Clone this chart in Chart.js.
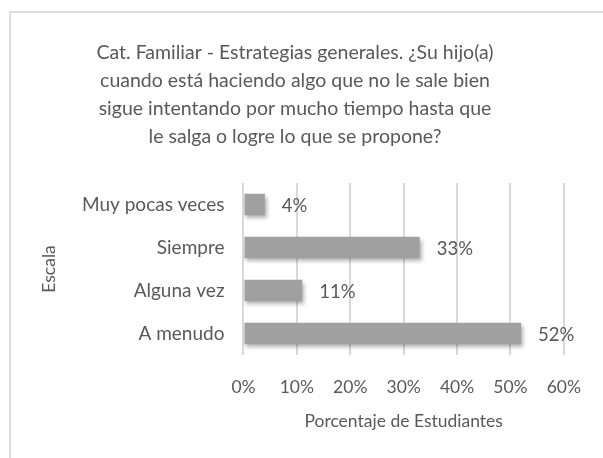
<!DOCTYPE html>
<html lang="es">
<head>
  <meta charset="UTF-8">
  <title>Estrategias generales</title>
  <script src="https://cdn.jsdelivr.net/npm/chart.js"></script>
  <style>
    body { margin: 0; background: #fff; }
    #wrap { position: relative; width: 603px; height: 458px; overflow: hidden; }
    #frame { position: absolute; left: 9px; top: 11px; width: 700px; height: 600px; border: 2px solid #dedede; }
    canvas { position: absolute; left: 0; top: 0; }
  </style>
</head>
<body>
<div id="wrap">
  <div id="frame"></div>
  <canvas id="chart" width="603" height="458"></canvas>
</div>

<script>
  const categories = ['Muy pocas veces', 'Siempre', 'Alguna vez', 'A menudo'];
  const percentages = [4, 33, 11, 52];
  const xTicks = [0, 10, 20, 30, 40, 50, 60];

  const textColor = '#595959';
  const fontFamily = 'Lato, "Open Sans", sans-serif';

  // value labels to the right of each bar
  const barLabels = {
    id: 'barLabels',
    afterDatasetsDraw(chart) {
      const ctx = chart.ctx;
      const meta = chart.getDatasetMeta(0);
      ctx.save();
      ctx.font = '18.5px ' + fontFamily;
      ctx.fillStyle = textColor;
      ctx.textAlign = 'left';
      ctx.textBaseline = 'middle';
      meta.data.forEach((bar, i) => {
        ctx.fillText(percentages[i] + '%', bar.x + 17, bar.y + 2);
      });
      ctx.restore();
    }
  };

  // soft drop shadow under the bars
  const barShadow = {
    id: 'barShadow',
    beforeDatasetsDraw(chart) {
      const ctx = chart.ctx;
      ctx.save();
      ctx.shadowColor = 'rgba(0,0,0,0.3)';
      ctx.shadowBlur = 4;
      ctx.shadowOffsetX = 2;
      ctx.shadowOffsetY = 3;
    },
    afterDatasetsDraw(chart) {
      chart.ctx.restore();
    }
  };

  function barFill(context) {
    const chart = context.chart;
    const el = context.element;
    if (!el || !chart.chartArea) return '#a0a0a0';
    const top = el.y - el.height / 2;
    const bottom = el.y + el.height / 2;
    if (!isFinite(top) || !isFinite(bottom)) return '#a0a0a0';
    const g = chart.ctx.createLinearGradient(0, top, 0, bottom);
    g.addColorStop(0, '#ababab');
    g.addColorStop(1, '#949494');
    return g;
  }

  new Chart(document.getElementById('chart'), {
    type: 'bar',
    data: {
      labels: categories,
      datasets: [{
        data: percentages,
        backgroundColor: barFill,
        borderWidth: 0,
        categoryPercentage: 1,
        barPercentage: 0.5
      }]
    },
    plugins: [barShadow, barLabels],
    options: {
      indexAxis: 'y',
      responsive: false,
      animation: false,
      events: [],
      layout: { padding: { left: 0, right: 13, top: 39, bottom: 26 } },
      plugins: {
        legend: { display: false },
        tooltip: { enabled: false },
        title: {
          display: true,
          text: [
            'Cat. Familiar - Estrategias generales. ¿Su hijo(a)',
            'cuando está haciendo algo que no le sale bien',
            'sigue intentando por mucho tiempo hasta que',
            'le salga o logre lo que se propone?'
          ],
          color: textColor,
          font: { family: fontFamily, size: 19.5, weight: 'normal', lineHeight: 1.436 },
          padding: { top: 0, bottom: 32 }
        }
      },
      scales: {
        x: {
          min: 0,
          max: 60,
          afterBuildTicks(axis) {
            axis.ticks = xTicks.map(v => ({ value: v }));
          },
          grid: { color: '#d9d9d9', lineWidth: 2, drawTicks: false },
          border: { display: false },
          ticks: {
            color: textColor,
            font: { family: fontFamily, size: 17.5 },
            padding: 22,
            callback: v => v + '%'
          },
          title: {
            display: true,
            text: 'Porcentaje de Estudiantes',
            color: textColor,
            font: { family: fontFamily, size: 17.5 },
            padding: { top: -9, bottom: 0 }
          }
        },
        y: {
          grid: { display: false, drawTicks: false },
          border: { display: false },
          ticks: {
            color: textColor,
            font: { family: fontFamily, size: 19 },
            padding: 19
          },
          title: {
            display: true,
            text: 'Escala',
            color: textColor,
            font: { family: fontFamily, size: 17.5 },
            padding: { top: 39, bottom: 3 }
          }
        }
      }
    }
  });
</script>
</body>
</html>
